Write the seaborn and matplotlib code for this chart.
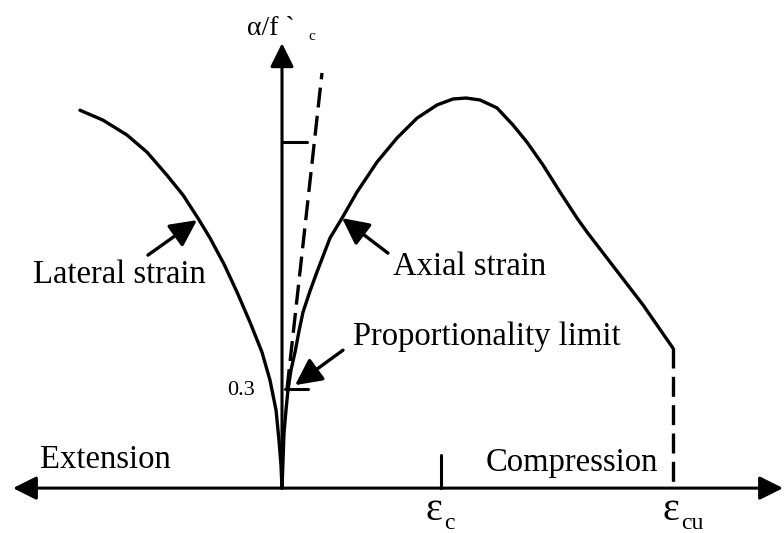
import numpy as np
import pandas as pd
import seaborn as sns
import matplotlib.pyplot as plt

# strain in units where eps_c = 2.0, stress as alpha / f'c
axial_strain = [0, 0.013, 0.025, 0.050, 0.075, 0.113, 0.164, 0.214, 0.264, 0.352, 0.440,
                0.604, 0.755, 0.943, 1.195, 1.447, 1.698, 1.950, 2.151, 2.314,
                2.491, 2.704, 2.906, 3.082, 3.283, 3.497, 3.711, 3.836, 4.126,
                4.541, 4.918]
axial_stress = [0, 0.085, 0.167, 0.236, 0.297, 0.358, 0.412, 0.476, 0.533, 0.597, 0.655,
                0.758, 0.818, 0.897, 0.988, 1.061, 1.121, 1.161, 1.179, 1.182,
                1.176, 1.152, 1.100, 1.048, 0.979, 0.897, 0.818, 0.776, 0.685,
                0.555, 0.424]

lateral_strain = [-2.541, -2.252, -1.950, -1.698, -1.447, -1.245, -1.057, -0.906,
                  -0.730, -0.566, -0.403, -0.252, -0.151, -0.075, -0.038, -0.013, 0]
lateral_stress = [1.145, 1.115, 1.070, 1.018, 0.948, 0.888, 0.818, 0.758,
                  0.679, 0.594, 0.503, 0.412, 0.327, 0.236, 0.145, 0.070, 0]

tangent_strain = [0.063, 0.503]
tangent_stress = [0.300, 1.258]

eps_c = 2.0
eps_cu = 4.918
stress_at_cu = 0.424
prop_limit = 0.3
upper_mark = 1.048

sns.set_theme(style="white")
plt.rcParams['font.family'] = ['Liberation Serif', 'DejaVu Serif']
plt.rcParams['text.color'] = 'black'

fig = plt.figure(figsize=(7.84, 5.33), dpi=100)
ax = fig.add_axes([0, 0, 1, 1])
ax.set_xlim(-3.547, 6.314)
ax.set_ylim(-0.136, 1.479)
ax.axis("off")

lw = 2.4
axial = pd.DataFrame({"strain": axial_strain, "stress": axial_stress})
lateral = pd.DataFrame({"strain": lateral_strain, "stress": lateral_stress})
sns.lineplot(data=axial, x="strain", y="stress", sort=False, color="black", lw=lw, ax=ax)
sns.lineplot(data=lateral, x="strain", y="stress", sort=False, color="black", lw=lw, ax=ax)
for ln in ax.lines:
    ln.set_solid_joinstyle("round")

# initial tangent and ultimate strain
ax.plot(tangent_strain, tangent_stress, color="black", lw=lw, dashes=(6, 2.5))
ax.plot([eps_cu, eps_cu], [stress_at_cu, 0], color="black", lw=lw, dashes=(6, 2.5))

# axes with arrows
arrow = dict(arrowstyle="<|-|>,head_length=0.8,head_width=0.4", mutation_scale=18,
             color="black", lw=2.2, shrinkA=0, shrinkB=0)
ax.annotate("", xy=(-3.384, 0), xytext=(6.302, 0), arrowprops=arrow)
ax.annotate("", xy=(0, 1.348), xytext=(0, 0),
            arrowprops=dict(arrow, arrowstyle="-|>,head_length=0.8,head_width=0.4"))

# ticks
ax.plot([eps_c, eps_c], [0, 0.1], color="black", lw=2.2)
ax.plot([0.013, 0.314], [upper_mark, upper_mark], color="black", lw=2.2)
ax.plot([0.038, 0.327], [prop_limit, prop_limit], color="black", lw=2.2)

# pointer arrows
pointer = dict(arrowstyle="-|>,head_length=0.9,head_width=0.45", mutation_scale=18,
               color="black", lw=2.4, shrinkA=0, shrinkB=0)
ax.annotate("", xy=(-1.069, 0.812), xytext=(-1.686, 0.706), arrowprops=pointer)
ax.annotate("", xy=(0.755, 0.818), xytext=(1.333, 0.712), arrowprops=pointer)
ax.annotate("", xy=(0.164, 0.312), xytext=(0.767, 0.418), arrowprops=pointer)

fs = 23.5
ax.text(-3.132, 0.645, "Lateral strain", fontsize=fs, ha="left", va="center")
ax.text(1.396, 0.670, "Axial strain", fontsize=fs, ha="left", va="center")
ax.text(0.893, 0.458, "Proportionality limit", fontsize=fs, ha="left", va="center")
ax.text(-3.044, 0.085, "Extension", fontsize=fs, ha="left", va="center")
ax.text(3.648, 0.076, "Compression", fontsize=fs, ha="center", va="center")
ax.text(-0.340, 0.297, "0.3", fontsize=16, ha="right", va="center")

ax.text(1.800, -0.097, "ε", fontsize=29, ha="left", va="baseline")
ax.text(2.040, -0.124, "c", fontsize=17, ha="left", va="baseline")
ax.text(4.780, -0.097, "ε", fontsize=29, ha="left", va="baseline")
ax.text(5.020, -0.124, "cu", fontsize=17, ha="left", va="baseline")
ax.text(-0.440, 1.373, "α/f `", fontsize=20, ha="left", va="baseline")
ax.text(0.327, 1.358, "c", fontsize=11, ha="left", va="baseline")

fig.savefig("out.png", dpi=100)
